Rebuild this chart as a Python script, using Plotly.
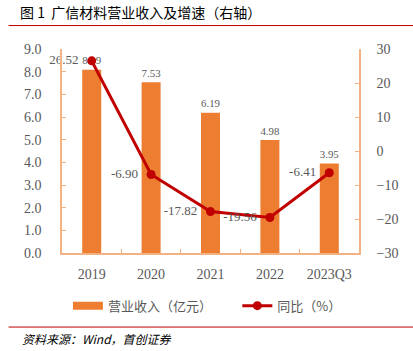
import plotly.graph_objects as go

categories = ["2019", "2020", "2021", "2022", "2023Q3"]
revenue = [8.09, 7.53, 6.19, 4.98, 3.95]
growth = [26.52, -6.90, -17.82, -19.56, -6.41]
left_ticks = [0, 1, 2, 3, 4, 5, 6, 7, 8, 9]
right_ticks = [-30, -20, -10, 0, 10, 20, 30]

ORANGE = "#ED7D31"
AXIS = "#F4B183"
RED = "#C00000"
GRAY = "#595959"
SERIF = "Liberation Serif, Times New Roman, serif"
CJK = "Noto Sans CJK SC"
NB = "\u00a0"

fig = go.Figure()
fig.add_trace(go.Bar(
    x=categories, y=revenue, name="营业收入（亿元）", showlegend=False,
    marker=dict(color=ORANGE, line=dict(width=0)), width=0.32,
    text=[f"{v:.2f}" for v in revenue], textposition="outside",
    textfont=dict(family=SERIF, size=13, color=GRAY), cliponaxis=False,
))
# legend entry for the bars (wide rectangle swatch)
fig.add_trace(go.Scatter(
    x=[None], y=[None], mode="lines", name="营业收入（亿元）" + NB * 7,
    line=dict(color=ORANGE, width=8),
))
fig.add_trace(go.Scatter(
    x=categories, y=growth, name="同比（%）", yaxis="y2",
    mode="lines+markers+text",
    line=dict(color=RED, width=3), marker=dict(color=RED, size=9),
    text=[f"{v:.2f}" + NB * 2 for v in growth], textposition="middle left",
    textfont=dict(family=SERIF, size=13, color=GRAY), cliponaxis=False,
))

fig.update_layout(
    width=413, height=351,
    margin=dict(l=62, r=54, t=49, b=98),
    paper_bgcolor="white", plot_bgcolor="white",
    showlegend=True,
    title=dict(text="图 1  广信材料营业收入及增速（右轴）", x=20 / 413, xanchor="left",
               xref="container", yref="container", y=1 - 13 / 351, yanchor="middle",
               font=dict(family=CJK, size=14, color="#000000")),
    legend=dict(orientation="h", x=0.02, xanchor="left", y=-0.185, yanchor="top",
                font=dict(family=CJK, size=13, color=GRAY), itemwidth=30,
                traceorder="normal"),
    xaxis=dict(type="category", showline=True, linecolor=AXIS, linewidth=1.5,
               ticks="inside", tickson="boundaries", ticklen=4, tickcolor=AXIS,
               ticklabelstandoff=7,
               tickfont=dict(family=SERIF, size=14, color=GRAY), showgrid=False),
    yaxis=dict(range=[0, 9], tickvals=left_ticks, tickformat=".1f",
               showline=True, linecolor=AXIS, linewidth=1.5, ticklabelstandoff=16,
               ticks="inside", ticklen=4, tickcolor=AXIS, showgrid=False, zeroline=False,
               tickfont=dict(family=SERIF, size=14, color=GRAY)),
    yaxis2=dict(range=[-30, 30], tickvals=right_ticks, overlaying="y", side="right",
                showline=True, linecolor=AXIS, linewidth=1.5, ticklabelstandoff=13,
                ticks="inside", ticklen=4, tickcolor=AXIS, showgrid=False, zeroline=False,
                tickfont=dict(family=SERIF, size=14, color=GRAY)),
    annotations=[
        dict(text="<i>资料来源：Wind，首创证券</i>", xref="paper", yref="paper",
             x=-0.14, y=-0.42, xanchor="left", yanchor="middle", showarrow=False,
             width=330, align="left",
             font=dict(family=CJK, size=12, color="#000000")),
    ],
    shapes=[
        dict(type="line", xref="paper", yref="paper", x0=-0.18, x1=1.19, y0=1.115, y1=1.115,
             line=dict(color=RED, width=1)),
        dict(type="line", xref="paper", yref="paper", x0=-0.18, x1=1.19, y0=-0.363, y1=-0.363,
             line=dict(color=RED, width=1)),
    ],
)

fig.write_html("out.html")
